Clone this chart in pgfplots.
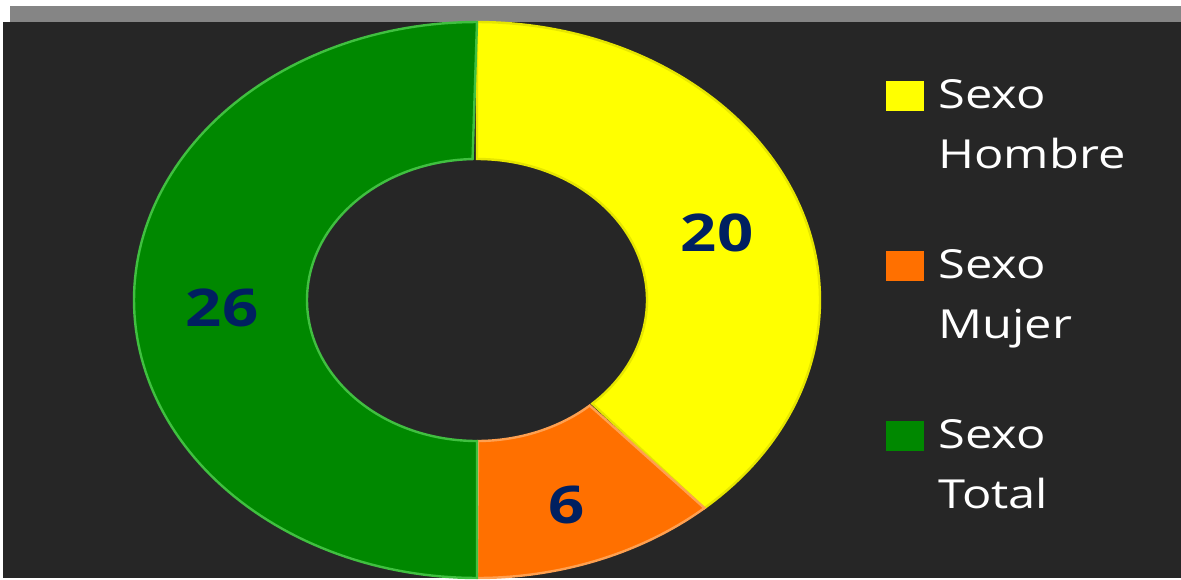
\documentclass[border=0pt]{standalone}
\usepackage{pgfplots}
\pgfplotsset{compat=1.18}
\usepackage{fontspec}
\setmainfont{Open Sans}[FakeStretch=1.22]
\definecolor{bgdark}{HTML}{262626}
\definecolor{bargray}{HTML}{858585}
\definecolor{cyel}{HTML}{FFFF00}
\definecolor{cyelrim}{HTML}{E6E600}
\definecolor{corg}{HTML}{FF7000}
\definecolor{corgrim}{HTML}{FFA050}
\definecolor{cgrn}{HTML}{008800}
\definecolor{cgrnrim}{HTML}{40C040}
\definecolor{lblblue}{HTML}{002060}
% data values
\def\vA{20}\def\vB{6}\def\vC{26}
\pgfmathsetmacro{\tot}{\vA+\vB+\vC}
\pgfmathsetmacro{\aA}{90}
\pgfmathsetmacro{\aB}{90-360*\vA/\tot}
\pgfmathsetmacro{\aC}{\aB-360*\vB/\tot}
\pgfmathsetmacro{\aD}{\aC-360*\vC/\tot}
% donut geometry (pixels)
\def\cx{477}\def\cy{278}
\def\ro{343}\def\rov{278}
\def\ri{170}\def\riv{141}
\newcommand{\slice}[3]{%
 \addplot[#1, domain=0:2, samples=241, variable=\t]
  ({\cx + (\t<=1 ? \ro*cos(#2+(#3-#2)*\t) : \ri*cos(#3-(#3-#2)*(\t-1)))},
   {\cy + (\t<=1 ? \rov*sin(#2+(#3-#2)*\t) : \riv*sin(#3-(#3-#2)*(\t-1)))}) -- cycle;}
\begin{document}
\begin{tikzpicture}
\begin{axis}[
  width=590.5pt, height=289pt, scale only axis,
  xmin=0, xmax=1181, ymin=0, ymax=578,
  axis lines=none, clip=false,
  legend style={at={(axis cs:880,505)}, anchor=north west, draw=none, fill=none,
     text=white, font=\fontsize{20}{30}\selectfont, row sep=37pt,
     nodes={align=left, inner sep=1pt}},
  legend cell align=left,
  legend image code/.code={\fill[#1, draw=none] (0pt,7pt) rectangle (19pt,22pt);},
  legend style={/tikz/every odd column/.append style={column sep=6pt}},
]
\fill[white] (axis cs:0,0) rectangle (axis cs:1181,578);
\fill[bargray] (axis cs:10,556) rectangle (axis cs:1181,572);
\fill[bgdark] (axis cs:3,0) rectangle (axis cs:1181,556);
\slice{fill=cyel, draw=cyelrim, line width=1.2pt}{\aA}{\aB}
\addlegendentry{Sexo\\Hombre}
\slice{fill=corg, draw=corgrim, line width=1.2pt}{\aB}{\aC}
\addlegendentry{Sexo\\Mujer}
\slice{fill=cgrn, draw=cgrnrim, line width=1.2pt}{\aC}{\aD}
\addlegendentry{Sexo\\Total}
\node[font=\fontsize{26}{26}\selectfont\bfseries, text=lblblue] at (axis cs:717,345) {20};
\node[font=\fontsize{26}{26}\selectfont\bfseries, text=lblblue] at (axis cs:567,73) {6};
\node[font=\fontsize{26}{26}\selectfont\bfseries, text=lblblue] at (axis cs:222,270) {26};
\end{axis}
\end{tikzpicture}
\end{document}
